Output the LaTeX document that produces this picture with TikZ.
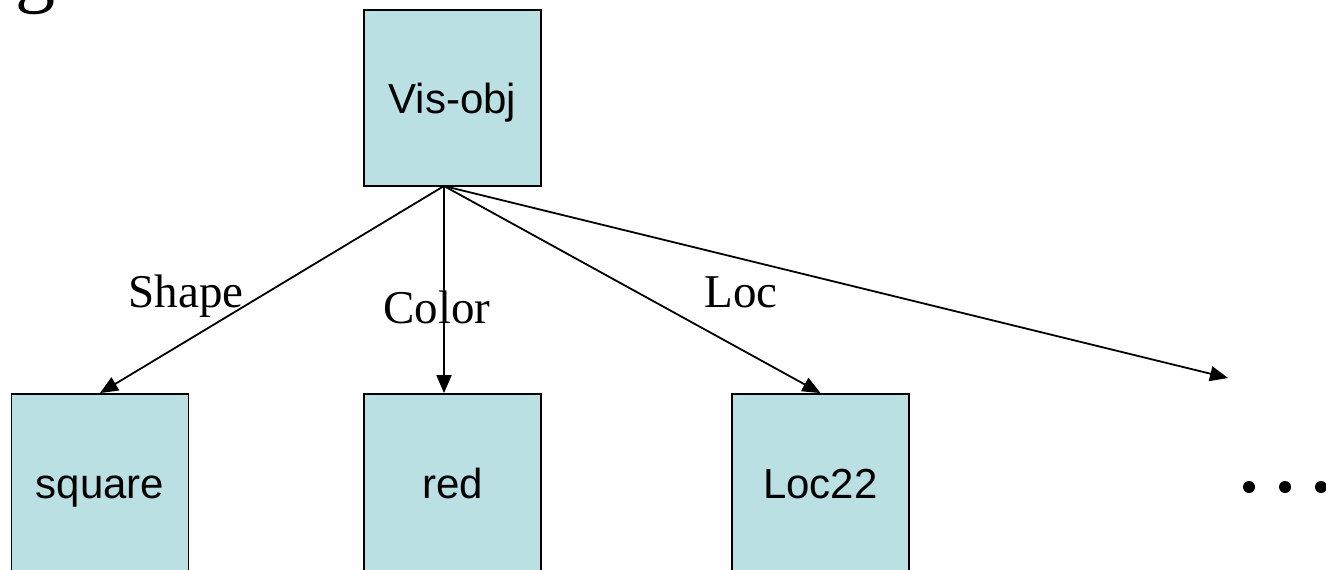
\documentclass[tikz,border=0pt]{standalone}
\usepackage{fontspec}
\setmainfont{Liberation Serif}
\setsansfont{Liberation Sans}
\usetikzlibrary{arrows.meta,calc}
\definecolor{boxfill}{RGB}{187,224,227}
\tikzset{
  objbox/.style={draw=black, line width=1.8pt, fill=boxfill, inner sep=0pt,
    minimum width=177pt, minimum height=177pt,
    text height=31pt, text depth=0pt,
    font=\sffamily\fontsize{42}{50}\selectfont},
  rel/.style={line width=1.8pt, -{Triangle[length=18pt,width=15pt]}},
  rellabel/.style={anchor=base, inner sep=0pt, font=\rmfamily\fontsize{47}{56}\selectfont},
  dot/.style={fill=black, draw=none}
}
\begin{document}
\begin{tikzpicture}[x=1pt,y=-1pt]
  \useasboundingbox (0,0) rectangle (1326,570);
  \clip (0,0) rectangle (1326,570);
  % heading letter running off the top edge
  \node[anchor=base west, inner sep=0pt, font=\rmfamily\fontsize{80}{90}\selectfont] (head) at (15,-2) {g};
  % object and its attribute values
  \node[objbox, minimum height=176pt] (vis) at (452.5,98) {Vis-obj};
  \node[objbox] (square) at (100,482.5) {square};
  \node[objbox] (red) at (452.5,482.5) {red};
  \node[objbox] (loc) at (820.5,482.5) {Loc22};
  \coordinate (src) at (444,186);
  \coordinate (more) at (1228,378);
  % relations
  \draw[rel] (src) -- (square.north);
  \draw[rel] (src) -- (src |- red.north);
  \draw[rel] (src) -- (loc.north);
  \draw[rel] (src) -- (more);
  \node[rellabel] (lshape) at (186,307) {Shape};
  \node[rellabel] (lcolor) at (437,323) {Color};
  \node[rellabel] (lloc) at (741,307) {Loc};
  % ellipsis
  \fill[dot] (1249,487) circle (6pt);
  \fill[dot] (1285,487) circle (6pt);
  \fill[dot] (1321,487) circle (6pt);
\end{tikzpicture}
\end{document}
